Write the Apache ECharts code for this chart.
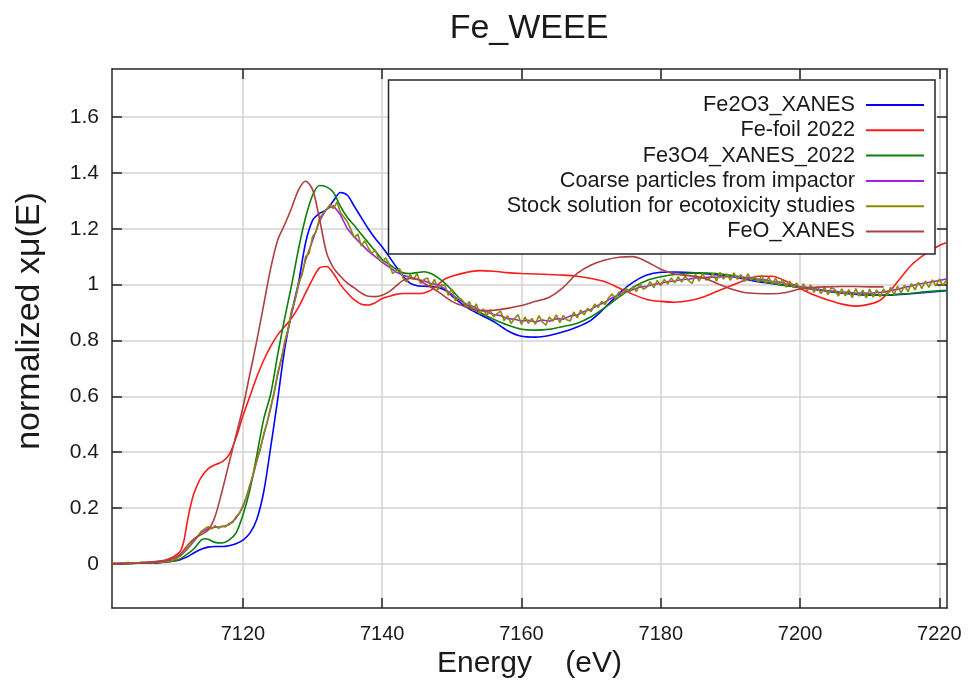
<!DOCTYPE html>
<html>
<head>
<meta charset="utf-8">
<script src="https://cdn.jsdelivr.net/npm/echarts@6/dist/echarts.min.js"></script>
<style>
  html, body { margin: 0; padding: 0; background: #ffffff; }
  #chart { width: 970px; height: 685px; }
</style>
</head>
<body>
<div id="chart"></div>
<script>
// Axis tick labels
const energyTicks = [7120, 7140, 7160, 7180, 7200, 7220];
const muTicks = [0, 0.2, 0.4, 0.6, 0.8, 1, 1.2, 1.4, 1.6];

const seriesNames = [
  'Fe2O3_XANES',
  'Fe-foil 2022',
  'Fe3O4_XANES_2022',
  'Coarse particles from impactor',
  'Stock solution for ecotoxicity studies',
  'FeO_XANES'
];

// Fe2O3 reference
const fe2o3Energy = [7101, 7105, 7108, 7110, 7111, 7112, 7113, 7114, 7115, 7116, 7117, 7118, 7119, 7120,
  7121, 7122, 7123, 7124, 7125, 7126, 7127, 7128, 7129, 7130, 7131, 7132, 7133, 7134, 7135, 7136, 7137,
  7138, 7139, 7140, 7141, 7142, 7143, 7144, 7145, 7146, 7147, 7148, 7149, 7150, 7152, 7154, 7156, 7158,
  7160, 7162, 7164, 7166, 7168, 7170, 7172, 7174, 7176, 7178, 7180, 7182, 7185, 7188, 7191, 7194, 7197,
  7200, 7203, 7206, 7209, 7212, 7215, 7218, 7221];
const fe2o3Mu = [0, 0.002, 0.004, 0.01, 0.015, 0.025, 0.04, 0.052, 0.06, 0.062, 0.062, 0.065, 0.072, 0.085,
  0.11, 0.16, 0.26, 0.42, 0.59, 0.77, 0.9, 1.01, 1.15, 1.23, 1.255, 1.268, 1.3, 1.33, 1.32, 1.28, 1.24,
  1.2, 1.165, 1.135, 1.1, 1.064, 1.03, 1.005, 0.996, 0.994, 0.993, 0.99, 0.98, 0.96, 0.92, 0.893, 0.868, 0.835,
  0.815, 0.812, 0.818, 0.831, 0.848, 0.873, 0.918, 0.968, 1.008, 1.034, 1.044, 1.045, 1.042, 1.035, 1.025, 1.01, 1.0,
  0.99, 0.98, 0.97, 0.963, 0.962, 0.966, 0.972, 0.978];

// Fe metal foil
const feFoilEnergy = [7101, 7104, 7106, 7108, 7109, 7110, 7111, 7111.5, 7112, 7112.5, 7113, 7114, 7115, 7116,
  7117, 7118, 7119, 7120, 7121, 7122, 7123, 7124, 7125, 7126, 7127, 7128, 7129, 7130, 7131, 7132, 7133,
  7134, 7135, 7136, 7137, 7138, 7139, 7140, 7141, 7142, 7143, 7144, 7145, 7146, 7147, 7148, 7149, 7150,
  7152, 7154, 7156, 7158, 7160, 7162, 7164, 7166, 7168, 7170, 7172, 7174, 7176, 7178, 7180, 7182, 7184,
  7186, 7188, 7190, 7192, 7194, 7196, 7198, 7200, 7202, 7204, 7206, 7208, 7210, 7211.5, 7213, 7214, 7216,
  7218, 7220, 7221];
const feFoilMu = [0, 0.002, 0.005, 0.01, 0.015, 0.025, 0.045, 0.08, 0.15, 0.21, 0.255, 0.31, 0.34, 0.355,
  0.365, 0.39, 0.45, 0.53, 0.6, 0.67, 0.73, 0.78, 0.82, 0.85, 0.88, 0.92, 0.97, 1.02, 1.06, 1.065, 1.04,
  1.0, 0.97, 0.945, 0.93, 0.927, 0.935, 0.95, 0.958, 0.965, 0.968, 0.968, 0.968, 0.97, 0.98, 1.0, 1.02, 1.03,
  1.043, 1.05, 1.048, 1.043, 1.04, 1.038, 1.036, 1.034, 1.03, 1.022, 1.01, 0.988, 0.965, 0.947, 0.94, 0.937, 0.942,
  0.955, 0.975, 0.995, 1.015, 1.03, 1.03, 1.012, 0.986, 0.963, 0.945, 0.93, 0.923, 0.93, 0.944, 0.98, 1.01, 1.07,
  1.11, 1.14, 1.15];

// Fe3O4 reference
const fe3o4Energy = [7101, 7105, 7108, 7110, 7111, 7112, 7113, 7114, 7114.5, 7115, 7116, 7117, 7118, 7119,
  7120, 7121, 7122, 7123, 7124, 7125, 7126, 7127, 7128, 7129, 7130, 7131, 7132, 7133, 7134, 7135, 7136,
  7137, 7138, 7139, 7140, 7141, 7142, 7143, 7144, 7145, 7146, 7147, 7148, 7149, 7150, 7152, 7154, 7156,
  7158, 7160, 7162, 7164, 7166, 7168, 7170, 7172, 7174, 7176, 7178, 7180, 7182, 7185, 7188, 7191, 7194,
  7197, 7200, 7203, 7206, 7209, 7212, 7215, 7218, 7221];
const fe3o4Mu = [0, 0.002, 0.005, 0.01, 0.018, 0.035, 0.055, 0.085, 0.09, 0.088, 0.077, 0.075, 0.085, 0.11,
  0.175, 0.265, 0.39, 0.52, 0.61, 0.75, 0.88, 1.0, 1.13, 1.24, 1.32, 1.355, 1.35, 1.33, 1.28, 1.24, 1.212,
  1.18, 1.15, 1.12, 1.09, 1.073, 1.055, 1.042, 1.04, 1.043, 1.046, 1.04, 1.025, 1.005, 0.98, 0.93, 0.9, 0.876,
  0.855, 0.84, 0.837, 0.84, 0.85, 0.862, 0.885, 0.918, 0.955, 0.99, 1.015, 1.028, 1.036, 1.042, 1.04, 1.03, 1.015,
  1.0, 0.99, 0.98, 0.97, 0.965, 0.963, 0.967, 0.974, 0.98];

// Coarse particles from impactor, measured every 1 eV from 7101 eV
const coarseMu = [
  0.000, 0.002, 0.003, 0.002, 0.004, 0.005, 0.004, 0.006, 0.008, 0.014,
  0.028, 0.052, 0.082, 0.112, 0.126, 0.131, 0.133, 0.140, 0.163, 0.203,
  0.278, 0.368, 0.462, 0.558, 0.678, 0.788, 0.898, 0.998, 1.088, 1.158,
  1.228, 1.270, 1.282, 1.250, 1.200, 1.170, 1.145, 1.120, 1.100, 1.080,
  1.063, 1.045, 1.033, 1.026, 1.018, 1.014, 1.004, 1.000, 0.985, 0.965,
  0.946, 0.930, 0.922, 0.908, 0.903, 0.893, 0.889, 0.878, 0.876, 0.870,
  0.872, 0.866, 0.873, 0.869, 0.878, 0.876, 0.888, 0.891, 0.904, 0.912,
  0.926, 0.937, 0.953, 0.963, 0.976, 0.982, 0.991, 0.994, 1.001, 1.004,
  1.011, 1.013, 1.018, 1.019, 1.024, 1.024, 1.027, 1.026, 1.029, 1.027,
  1.028, 1.025, 1.025, 1.019, 1.017, 1.011, 1.009, 1.002, 0.999, 0.992,
  0.990, 0.983, 0.982, 0.976, 0.977, 0.972, 0.973, 0.969, 0.971, 0.968,
  0.972, 0.973, 0.979, 0.983, 0.990, 0.995, 1.002, 1.006, 1.010, 1.015,
  1.020
];

// Stock solution for ecotoxicity studies, measured every 0.5 eV from 7101 eV
const stockMu = [
  0.000, 0.004, -0.001, 0.003, 0.002, 0.006, 0.001, 0.004, 0.003, 0.007,
  0.004, 0.006, 0.003, 0.008, 0.005, 0.007, 0.010, 0.006, 0.014, 0.019,
  0.031, 0.041, 0.056, 0.070, 0.086, 0.099, 0.116, 0.125, 0.133, 0.125,
  0.137, 0.127, 0.136, 0.132, 0.145, 0.147, 0.169, 0.180, 0.210, 0.236,
  0.284, 0.321, 0.374, 0.410, 0.468, 0.507, 0.565, 0.612, 0.686, 0.730,
  0.797, 0.840, 0.910, 0.945, 1.008, 1.035, 1.100, 1.112, 1.172, 1.188,
  1.238, 1.255, 1.268, 1.287, 1.272, 1.296, 1.258, 1.242, 1.225, 1.198,
  1.168, 1.181, 1.138, 1.157, 1.131, 1.112, 1.124, 1.092, 1.081, 1.096,
  1.073, 1.040, 1.049, 1.057, 1.024, 1.009, 1.037, 1.018, 1.040, 1.004,
  1.018, 1.024, 0.993, 1.019, 0.981, 0.999, 0.998, 0.961, 0.984, 0.942,
  0.953, 0.944, 0.921, 0.940, 0.908, 0.931, 0.894, 0.913, 0.889, 0.910,
  0.884, 0.896, 0.905, 0.871, 0.889, 0.861, 0.878, 0.893, 0.857, 0.884,
  0.861, 0.879, 0.858, 0.889, 0.866, 0.855, 0.884, 0.869, 0.892, 0.864,
  0.889, 0.874, 0.870, 0.902, 0.881, 0.909, 0.892, 0.915, 0.903, 0.930,
  0.918, 0.940, 0.928, 0.953, 0.966, 0.949, 0.974, 0.962, 0.988, 0.970,
  0.993, 0.975, 1.004, 0.983, 0.991, 1.010, 0.989, 1.015, 0.996, 1.019,
  1.002, 1.024, 1.006, 1.028, 1.009, 1.030, 1.014, 1.004, 1.037, 1.012,
  1.040, 1.016, 1.022, 1.041, 1.012, 1.044, 1.020, 1.038, 1.015, 1.042,
  1.019, 1.036, 1.011, 1.039, 1.016, 1.030, 1.008, 1.034, 1.005, 1.027,
  1.003, 1.022, 0.997, 1.019, 0.991, 1.012, 0.989, 1.006, 0.981, 1.003,
  0.977, 0.999, 0.972, 0.993, 0.968, 0.991, 0.964, 0.989, 0.983, 0.959,
  0.985, 0.960, 0.982, 0.953, 0.986, 0.959, 0.980, 0.952, 0.984, 0.955,
  0.981, 0.956, 0.985, 0.962, 0.990, 0.965, 0.994, 0.970, 0.998, 0.975,
  1.004, 0.981, 1.008, 0.986, 1.013, 0.990, 1.017, 0.995, 1.020, 0.998,
  1.015
];

// FeO reference (scan ends at 7212 eV)
const feoEnergy = [7101, 7105, 7108, 7109, 7110, 7111, 7112, 7113, 7114, 7115, 7116, 7117, 7118, 7119,
  7120, 7121, 7122, 7123, 7124, 7125, 7126, 7127, 7128, 7129, 7130, 7131, 7132, 7133, 7134, 7135, 7136,
  7137, 7138, 7139, 7140, 7141, 7142, 7143, 7144, 7145, 7146, 7148, 7150, 7152, 7154, 7156, 7158, 7160,
  7162, 7164, 7166, 7168, 7170, 7172, 7174, 7176, 7178, 7180, 7182, 7184, 7186, 7188, 7190, 7192, 7194,
  7196, 7198, 7200, 7202, 7204, 7206, 7208, 7210, 7212];
const feoMu = [0, 0.003, 0.008, 0.012, 0.02, 0.035, 0.065, 0.09, 0.105, 0.12, 0.17, 0.26, 0.36, 0.46,
  0.56, 0.68, 0.8, 0.93, 1.06, 1.16, 1.215, 1.275, 1.34, 1.37, 1.34, 1.235, 1.115, 1.06, 1.03, 1.005, 0.988,
  0.97, 0.958, 0.957, 0.962, 0.975, 0.995, 1.015, 1.022, 1.02, 1.005, 0.975, 0.94, 0.92, 0.907, 0.908, 0.915, 0.925,
  0.94, 0.955, 0.99, 1.04, 1.07, 1.088, 1.098, 1.1, 1.082, 1.055, 1.038, 1.032, 1.025, 1.005, 0.985, 0.972, 0.968,
  0.967, 0.972, 0.984, 0.99, 0.992, 0.993, 0.993, 0.992, 0.992];

const coarseEnergy = coarseMu.map((_, i) => 7101 + i);
const stockEnergy = stockMu.map((_, i) => 7101 + i * 0.5);

const pairs = (xs, ys) => xs.map((x, i) => [x, ys[i]]);

const FONT = '"Liberation Sans", Arial, sans-serif';
const INK = '#1a1a1a';
const FRAME = '#262626';

function curve(name, color, xs, ys, smooth) {
  return {
    name: name,
    type: 'line',
    data: pairs(xs, ys),
    xAxisIndex: 0,
    yAxisIndex: 0,
    symbol: 'none',
    showSymbol: false,
    smooth: smooth,
    clip: true,
    color: color,
    lineStyle: { color: color, width: 1.6 },
    itemStyle: { color: color },
    emphasis: { disabled: true }
  };
}

const E_MIN = 7101.2, E_MAX = 7221.1;
const MU_MIN = -0.158, MU_MAX = 1.772;

const tickStyle = { inside: true, length: 10, lineStyle: { color: FRAME, width: 1.5 } };
const lineStyleFrame = { show: true, onZero: false, lineStyle: { color: FRAME, width: 1.5 } };

const chart = echarts.init(document.getElementById('chart'), null, { renderer: 'canvas' });

chart.setOption({
  animation: false,
  backgroundColor: '#ffffff',
  title: {
    text: 'Fe_WEEE',
    left: 529,
    top: 12,
    padding: 0,
    textAlign: 'center',
    textStyle: { fontFamily: FONT, fontSize: 34, fontWeight: 'normal', color: INK }
  },
  grid: { left: 112, top: 69, right: 23, bottom: 77, containLabel: false },
  legend: {
    orient: 'vertical',
    right: 46,
    top: 94,
    align: 'right',
    padding: 0,
    itemGap: 3.3,
    itemWidth: 64,
    itemHeight: 2,
    symbolKeepAspect: false,
    icon: 'path://M0,0 M6,0 L64,0 L64,2 L6,2 Z',
    selectedMode: false,
    z: 20,
    textStyle: { fontFamily: FONT, fontSize: 21.7, color: INK, lineHeight: 22 },
    data: seriesNames
  },
  graphic: [{
    type: 'rect',
    z: 10,
    shape: { x: 388.5, y: 80, width: 546.5, height: 174 },
    style: { fill: '#ffffff', stroke: FRAME, lineWidth: 1.5 }
  }, {
    type: 'text',
    z: 5,
    x: 30,
    y: 321,
    rotation: Math.PI / 2,
    style: {
      text: 'normalized xμ(E)',
      fontFamily: FONT,
      fontSize: 34,
      fill: INK,
      align: 'center',
      verticalAlign: 'middle'
    }
  }],
  xAxis: [{
    type: 'value',
    min: E_MIN, max: E_MAX,
    splitNumber: 6,
    position: 'bottom',
    axisLine: lineStyleFrame,
    axisTick: Object.assign({ customValues: energyTicks }, tickStyle),
    axisLabel: { customValues: energyTicks, formatter: v => String(v), fontFamily: FONT, fontSize: 20,
      color: INK, margin: 16 },
    splitLine: { show: true, lineStyle: { color: '#d3d3d3', width: 1.5 } },
    name: 'Energy    (eV)',
    nameLocation: 'middle',
    nameGap: 37,
    nameTextStyle: { fontFamily: FONT, fontSize: 30, color: INK }
  }, {
    type: 'value',
    min: E_MIN, max: E_MAX,
    splitNumber: 6,
    position: 'top',
    axisLine: lineStyleFrame,
    axisTick: Object.assign({ customValues: energyTicks }, tickStyle),
    axisLabel: { show: false },
    splitLine: { show: false }
  }],
  yAxis: [{
    type: 'value',
    min: MU_MIN, max: MU_MAX,
    splitNumber: 10,
    position: 'left',
    axisLine: lineStyleFrame,
    axisTick: Object.assign({ customValues: muTicks }, tickStyle),
    axisLabel: { customValues: muTicks, formatter: v => String(v), fontFamily: FONT, fontSize: 21,
      color: INK, margin: 13 },
    splitLine: { show: true, lineStyle: { color: '#d3d3d3', width: 1.5 } }
  }, {
    type: 'value',
    min: MU_MIN, max: MU_MAX,
    splitNumber: 10,
    position: 'right',
    axisLine: lineStyleFrame,
    axisTick: Object.assign({ customValues: muTicks }, tickStyle),
    axisLabel: { show: false },
    splitLine: { show: false }
  }],
  series: [
    curve(seriesNames[0], '#0000ff', fe2o3Energy, fe2o3Mu, 0.3),
    curve(seriesNames[1], '#ff1a1a', feFoilEnergy, feFoilMu, 0.3),
    curve(seriesNames[2], '#0a800a', fe3o4Energy, fe3o4Mu, 0.3),
    curve(seriesNames[3], '#a020f0', coarseEnergy, coarseMu, false),
    curve(seriesNames[4], '#8b8b00', stockEnergy, stockMu, false),
    curve(seriesNames[5], '#b04040', feoEnergy, feoMu, 0.3)
  ]
});
</script>
</body>
</html>
